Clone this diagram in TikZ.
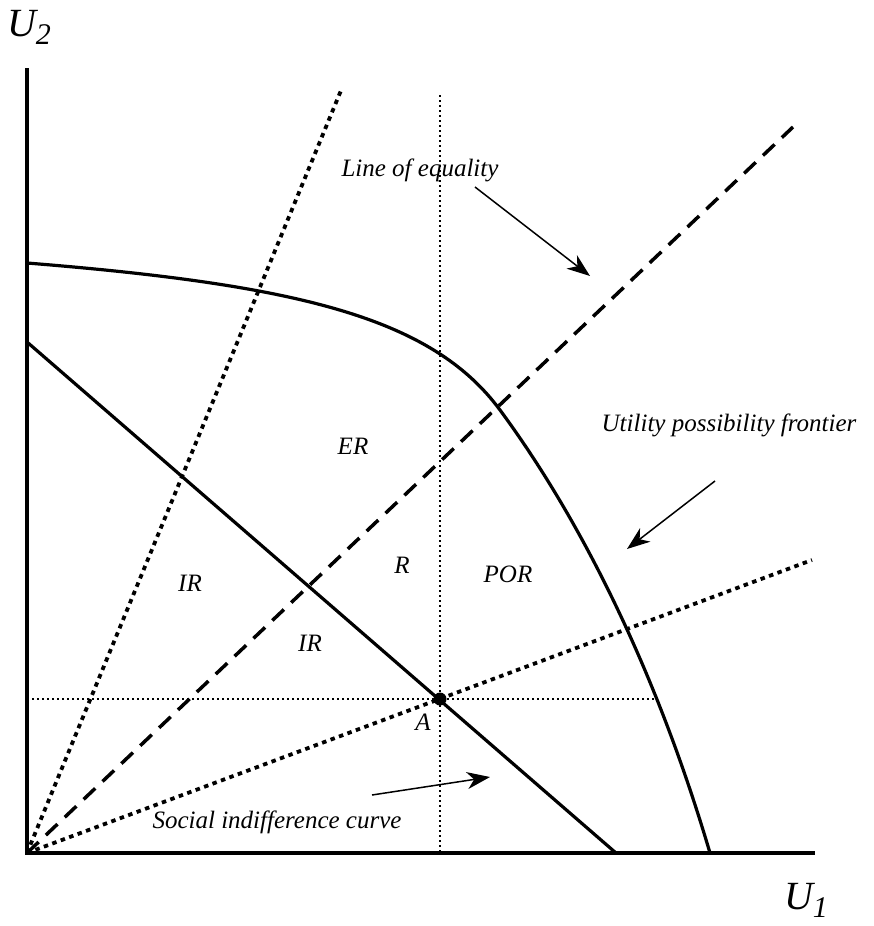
\documentclass[tikz,border=0pt]{standalone}
\usepackage{fontspec}
\setmainfont{Liberation Serif}
\usetikzlibrary{arrows.meta}

\begin{document}
\begin{tikzpicture}[
        x=1pt,
        y=-1pt,
        axis/.style={
            draw,
            line width=4pt
        },
        curve/.style={
            draw,
            line width=3.2pt
        },
        guide/.style={
            draw,
            line width=2pt,
            dash pattern=on 2pt off 3pt
        },
        ray/.style={
            draw,
            line width=3.8pt,
            dash pattern=on 4.5pt off 4.5pt
        },
        equal/.style={
            draw,
            line width=3.5pt,
            dash pattern=on 16pt off 10pt
        },
        tag/.style={
            font=\itshape\fontsize{25}{29}\selectfont
        },
        axislabel/.style={
            font=\itshape\fontsize{40}{44}\selectfont
        },
        pointer/.style={
            draw,
            line width=1.5pt,
            -{Stealth[length=23pt,width=17pt,inset=7pt]}
        },
      ]
        \useasboundingbox (0,0) rectangle (873,926);
        \coordinate (origin) at (27,853);
        \coordinate (a) at (440,699);
        % axes
        \path [axis] (27,68) -- (origin) -- (815,853);
        \node [axislabel] (u2) at (29,27) {U\raisebox{-8pt}{\fontsize{30}{32}\selectfont 2}};
        \node [axislabel] (u1) at (806,900) {U\raisebox{-8pt}{\fontsize{30}{32}\selectfont 1}};
        % guides through A
        \path [guide] (440,95) -- (440,853);
        \path [guide] (27,699) -- (655,699);
        % rays from the origin
        \path [ray] (origin) -- (342,88);
        \path [ray] (origin) -- (812,560);
        \path [equal] (origin) -- (793,127);
        % frontier and indifference curve
        \path [curve] (27,263) .. controls (300,285) and (432,318) .. (500,410)
            .. controls (570,505) and (650,650) .. (710,853);
        \path [curve] (27,342) -- (616,853);
        \fill (a) circle (6.5pt);
        % region labels
        \node [tag] (er) at (353,446) {ER};
        \node [tag] (r) at (402,565) {R};
        \node [tag] (por) at (508,574) {POR};
        \node [tag] (ir-left) at (190,583) {IR};
        \node [tag] (ir-right) at (310,643) {IR};
        \node [tag] (a-label) at (423,722) {A};
        % captions
        \node [tag] (equality) at (420,170) {Line of equality};
        \node [tag] (frontier) at (729,425) {Utility possibility frontier};
        \node [tag] (indifference) at (277,822) {Social indifference curve};
        \coordinate (equality-tip) at (590,276);
        \coordinate (frontier-tip) at (627,549);
        \coordinate (indifference-tip) at (490,777);
        \path [pointer] (475,187) -- (equality-tip);
        \path [pointer] (715,481) -- (frontier-tip);
        \path [pointer] (372,795) -- (indifference-tip);
      \end{tikzpicture}
\end{document}
